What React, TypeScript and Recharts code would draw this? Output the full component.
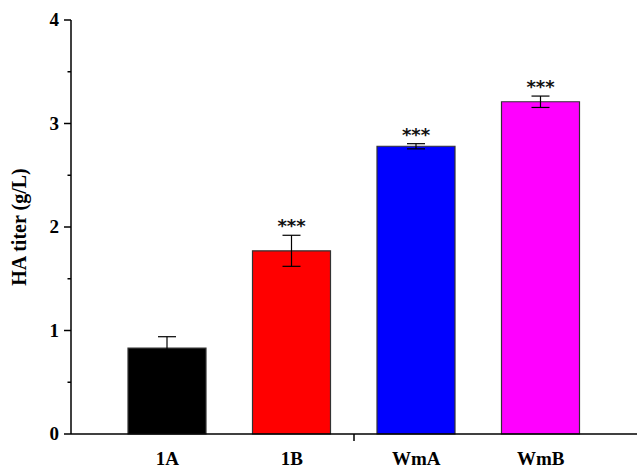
import React from 'react';
import {
  BarChart,
  Bar,
  XAxis,
  YAxis,
  Cell,
  ErrorBar,
  LabelList,
  usePlotArea,
} from 'recharts';

const strains = ['1A', '1B', 'WmA', 'WmB'];
const titers = [0.83, 1.77, 2.78, 3.21];
const errors = [0.11, 0.15, 0.025, 0.055];
const marks = ['', '***', '***', '***'];
const barColors = ['#000000', '#ff0000', '#0000ff', '#ff00ff'];
const yTicks = [0, 0.5, 1, 1.5, 2, 2.5, 3, 3.5, 4];

const data = strains.map((s, i) => ({
  strain: s,
  titer: titers[i],
  err: errors[i],
  mark: marks[i],
}));

const serif = '"Liberation Serif", "Times New Roman", serif';

const YTick = (props: any) => {
  const { x, y, payload } = props;
  const major = Number.isInteger(payload.value);
  return (
    <g>
      <line x1={x - (major ? 7 : 3.5)} x2={x} y1={y} y2={y} stroke="#000" strokeWidth={1.5} />
      {major && (
        <text x={x - 12} y={y} dy={6} textAnchor="end" fontFamily={serif} fontWeight="bold" fontSize={19} fill="#000">
          {payload.value}
        </text>
      )}
    </g>
  );
};

const XTick = (props: any) => {
  const { x, y, payload } = props;
  return (
    <text x={x} y={y + 31} textAnchor="middle" fontFamily={serif} fontWeight="bold" fontSize={19} fill="#000">
      {payload.value}
    </text>
  );
};

// star marks sit just above the error bar cap
const StarLabel = (props: any) => {
  const { x, y, width, height, value, index } = props;
  if (!value) return null;
  const pxPerUnit = height / titers[index];
  const top = y - errors[index] * pxPerUnit;
  return (
    <text
      x={x + width / 2}
      y={top - 3}
      textAnchor="middle"
      fontFamily="'DejaVu Sans', sans-serif"
      fontWeight="bold"
      fontSize={18}
      fill="#111"
    >
      {value}
    </text>
  );
};

// Origin-style axis has a single tick at the middle of the x axis
const MidTick = () => {
  const area = usePlotArea();
  if (!area) return null;
  const mx = area.x + area.width / 2;
  const by = area.y + area.height;
  return <line x1={mx} x2={mx} y1={by} y2={by + 7} stroke="#000" strokeWidth={1.5} />;
};

export default function App() {
  return (
    <div style={{ position: 'absolute', left: 0, top: 0, width: 639, height: 470, background: '#fff' }}>
      <BarChart width={639} height={470} data={data} margin={{ top: 20, right: 2, bottom: 0, left: 0 }}>
        <XAxis
          dataKey="strain"
          height={36}
          padding={{ left: 34, right: 34 }}
          axisLine={{ stroke: '#000', strokeWidth: 1.5 }}
          tickLine={false}
          tickSize={0}
          tickMargin={0}
          tick={<XTick />}
          interval={0}
        />
        <YAxis
          width={71}
          domain={[0, 4]}
          ticks={yTicks}
          interval={0}
          axisLine={{ stroke: '#000', strokeWidth: 1.5 }}
          tickLine={false}
          tickSize={0}
          tickMargin={0}
          tick={<YTick />}
          label={{
            content: ({ viewBox }: any) => {
              const cx = viewBox.x + 26;
              const cy = viewBox.y + viewBox.height / 2;
              return (
                <text
                  x={cx}
                  y={cy}
                  transform={`rotate(-90 ${cx} ${cy})`}
                  textAnchor="middle"
                  fontFamily={serif}
                  fontWeight="bold"
                  fontSize={20}
                  fill="#000"
                >
                  HA titer (g/L)
                </text>
              );
            },
          }}
        />
        <Bar dataKey="titer" barSize={78} stroke="#333" strokeWidth={1.2} isAnimationActive={false}>
          {data.map((d, i) => (
            <Cell key={d.strain} fill={barColors[i]} />
          ))}
          <ErrorBar dataKey="err" width={9} stroke="#000" strokeWidth={1.2} direction="y" />
          <LabelList dataKey="mark" content={<StarLabel />} />
        </Bar>
        <MidTick />
      </BarChart>
    </div>
  );
}
